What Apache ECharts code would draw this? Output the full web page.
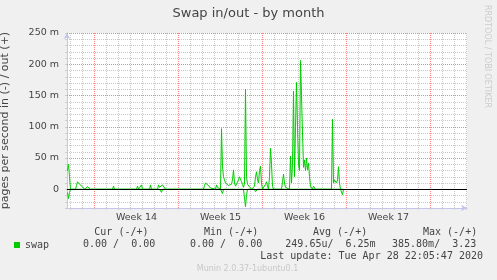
<!DOCTYPE html>
<html><head><meta charset="utf-8">
<script src="https://cdn.jsdelivr.net/npm/echarts@6/dist/echarts.min.js"></script>
<style>html,body{margin:0;padding:0;background:#f0f0f0}#c{width:497px;height:280px}</style>
</head><body><div id="c"></div>
<script>
// x values: hours since the start of Week 14; y values in milli pages/second
const outHours = [-54,-52,-50,-48,-38,-36,-34,-32,-30,-28,-26,-24,-22,-20,-16,-14,-12,-10,-8,
  36,38,40,84,86,88,92,94,96,110,112,114,126,128,130,132,134,136,138,140,142,180,182,184,
  218,220,222,224,226,228,230,232,234,242,244,246,248,252,254,256,258,260,262,264,266,268,270,
  272,274,276,278,280,282,284,286,288,290,292,294,296,298,300,302,304,306,308,310,312,314,
  318,320,322,324,326,328,330,332,334,336,340,342,344,346,348,350,352,354,356,358,
  374,376,378,380,382,384,390,392,394,396,398,400,402,404,406,408,410,412,414,416,418,420,
  422,424,426,428,430,432,434,436,438,440,442,474,476,478,480,482,484,486,488,490,492,498];
const outValues = [30,40,20,0,0,6,12,10,8,7,5,4,2,0,0,4,5,4,0,
  0,5,0,0,5,0,0,7,0,0,7,0,0,7,3,2,4,7,4,7,0,0,2,0,
  0,6,10,8,10,6,4,2,0,0,7,3,0,0,97,36,20,15,10,8,12,6,8,
  5,8,15,31,10,5,3,8,15,20,17,12,8,3,10,160,20,8,10,4,2,0,
  0,5,20,28,15,10,30,37,10,0,0,8,12,5,0,20,66,40,5,0,
  0,12,24,10,3,0,0,53,10,40,157,20,100,171,100,40,30,206,150,90,35,47,
  30,50,31,42,20,5,3,0,5,7,0,0,112,10,15,18,10,15,36,10,0,0];
const inHours = [-54,-52,-50,-48,130,132,134,136,252,256,258,298,302,304,306,308,310,
  320,322,324,326,492,496,498];
const inValues = [-5,-15,-5,0,0,-3,-5,0,0,-7,0,0,-28,-10,0,-3,0,0,-4,-2,0,0,-9,0];

const dayLines = [-48,-24,0,24,48,72,96,120,144,168,192,216,240,264,288,312,336,360,384,
  408,432,456,480,504,528,552,576,600,624,648,672,696,720,744];
const weekLines = [0,168,336,504,672];
const weekLabelPos = [84,252,420,588];
const weekLabels = ['Week 14','Week 15','Week 16','Week 17'];
const yTicks = [0,50,100,150,200,250];
const yMinor = [-20,-10,10,20,30,40,60,70,80,90,110,120,130,140,160,170,180,190,210,220,230,240];

const legendHeads = [['Cur (-/+)',94.3],['Min (-/+)',204],['Avg (-/+)',313],['Max (-/+)',423]];
const legendVals = [['0.00 /  0.00',83],['0.00 /  0.00',190],['249.65u/  6.25m',285.3],['385.80m/  3.23',392]];

const GREEN = '#00cc00', TXT = '#444', MONO = '"DejaVu Sans Mono", monospace', SANS = '"DejaVu Sans", sans-serif';
const minorStyle = {color:'#c8c8c8', type:[1,1], width:1};
const majorStyle = {color:'#ff8080', type:[1,1], width:1};
const axisColor = '#c4c4ee';
const X_MIN = -55, X_MAX = 745, Y_MIN = -30, Y_MAX = 250;
const minorDays = dayLines.filter(function(d){return weekLines.indexOf(d) < 0;});

function txt(text, x, y, font, fill, align) {
  return {type:'text', x:x, y:y, silent:true, style:{text:text, font:font, fill:fill,
    align:align||'left', verticalAlign:'middle', textAlign:align||'left', textVerticalAlign:'middle'}};
}
function vLine(d, style) { return [{coord:[d, Y_MIN], lineStyle:style}, {coord:[d, Y_MAX]}]; }
function hLine(v, style) { return [{coord:[X_MIN, v], lineStyle:style}, {coord:[X_MAX, v]}]; }

const chart = echarts.init(document.getElementById('c'), null, {renderer:'canvas'});
chart.setOption({
  backgroundColor:'#f0f0f0',
  animation:false,
  title:{text:'Swap in/out - by month', left:'center', top:7, padding:0,
    textStyle:{fontFamily:SANS, fontSize:13, fontWeight:'normal', color:TXT}},
  legend:{data:['swap'], left:14, top:239, padding:0, icon:'rect', itemWidth:6, itemHeight:6,
    itemStyle:{color:GREEN}, selectedMode:false,
    textStyle:{fontFamily:MONO, fontSize:10, color:TXT, lineHeight:12}},
  grid:{left:67, right:30, top:33, bottom:72, show:true, backgroundColor:'#ffffff', borderWidth:0,
    containLabel:false, outerBoundsMode:'none'},
  xAxis:{type:'value', min:X_MIN, max:X_MAX,
    axisLine:{show:true, onZero:false, symbol:['none','arrow'], symbolSize:[5,6], lineStyle:{color:axisColor, width:1}},
    axisTick:{show:true, customValues:dayLines, length:2, lineStyle:{color:'#cfcfcf'}},
    axisLabel:{customValues:weekLabelPos, margin:5, fontFamily:SANS, fontSize:9.5, color:TXT,
      formatter:function(v){const i = weekLabelPos.indexOf(v); return i>=0 ? weekLabels[i] : '';}},
    splitLine:{show:false}},
  yAxis:{type:'value', min:Y_MIN, max:Y_MAX, interval:10,
    name:'pages per second in (-) / out (+)', nameLocation:'middle', nameRotate:90, nameGap:56,
    nameTextStyle:{fontFamily:SANS, fontSize:11, color:TXT},
    axisLine:{show:true, onZero:false, symbol:['none','arrow'], symbolSize:[5,6], lineStyle:{color:axisColor, width:1}},
    axisTick:{show:true, length:2, lineStyle:{color:'#cfcfcf'}},
    axisLabel:{customValues:yTicks, margin:8, fontFamily:SANS, fontSize:9.5, color:TXT,
      formatter:function(v){return v===0 ? '0' : v + ' m';}},
    splitLine:{show:false}},
  series:[
    {type:'line', name:'grid', z:1, silent:true, symbol:'none', data:[[X_MIN,Y_MIN],[X_MAX,Y_MAX]],
      lineStyle:{width:0, opacity:0},
      markLine:{silent:true, z:1, symbol:['none','none'], label:{show:false}, animation:false,
        emphasis:{disabled:true},
        data:[].concat(
          minorDays.map(function(d){return vLine(d, minorStyle);}),
          yMinor.map(function(v){return hLine(v, minorStyle);}),
          weekLines.map(function(d){return vLine(d, majorStyle);}),
          yTicks.filter(function(v){return v!==0;}).map(function(v){return hLine(v, majorStyle);})
        )}},
    {type:'line', name:'swap', z:3, symbol:'none', color:GREEN,
      lineStyle:{color:GREEN, width:1},
      data:outHours.map(function(h,i){return [h, outValues[i]];})},
    {type:'line', name:'swap in', z:3, symbol:'none', color:GREEN,
      lineStyle:{color:GREEN, width:1},
      data:inHours.map(function(h,i){return [h, inValues[i]];})},
    {type:'line', name:'zero', z:4, silent:true, symbol:'none', data:[[X_MIN,0],[X_MAX,0]],
      lineStyle:{width:0, opacity:0},
      markLine:{silent:true, z:6, symbol:['none','none'], label:{show:false}, animation:false,
        emphasis:{disabled:true},
        data:[hLine(0, {color:'#000000', type:'solid', width:1})]}}
  ],
  graphic:[].concat(
    legendHeads.map(function(a){return txt(a[0], a[1], 232.3, '10px ' + MONO, TXT);}),
    legendVals.map(function(a){return txt(a[0], a[1], 244.7, '10px ' + MONO, TXT);}),
    [txt('Last update: Tue Apr 28 22:05:47 2020', 483, 256.7, '10px ' + MONO, TXT, 'right'),
     txt('Munin 2.0.37-1ubuntu0.1', 247.5, 269, '8px ' + SANS, '#c8c8c8', 'center'),
     {type:'text', x:487.5, y:5, rotation:-Math.PI/2, silent:true,
       style:{text:'RRDTOOL / TOBI OETIKER', font:'8px ' + SANS, fill:'#cccccc',
         align:'left', verticalAlign:'middle', textAlign:'left', textVerticalAlign:'middle'}}]
  )
});
</script></body></html>
